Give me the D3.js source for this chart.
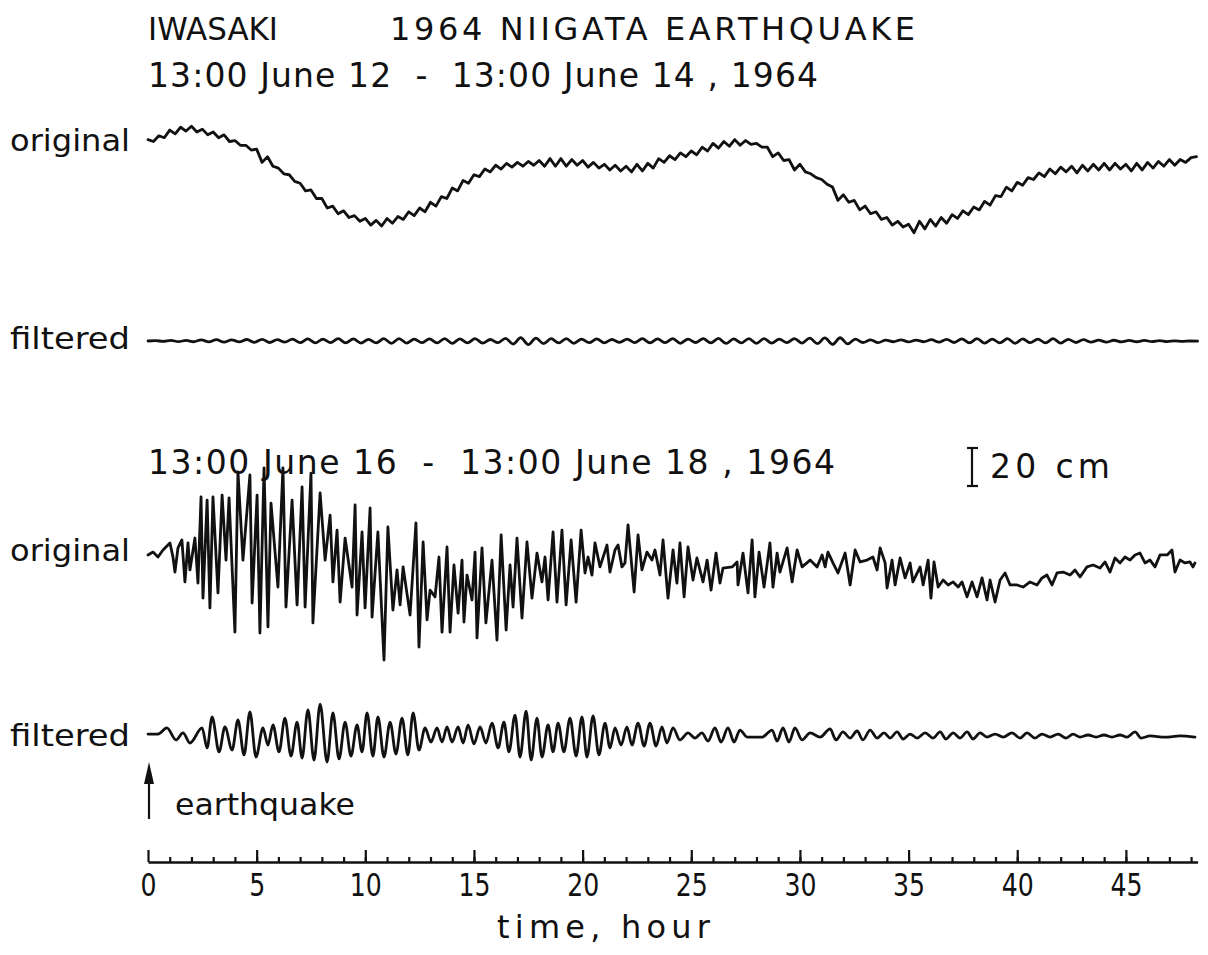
<!DOCTYPE html>
<html>
<head>
<meta charset="utf-8">
<script src="https://cdn.jsdelivr.net/npm/d3@7"></script>
<style>
  html, body { margin: 0; padding: 0; background: #ffffff; }
  svg text { font-family: "DejaVu Sans", "Liberation Sans", sans-serif; fill: #111; white-space: pre; }
</style>
</head>
<body>
<svg id="chart" width="1208" height="955"></svg>
<script>
// Iwasaki tide-gauge records around the 1964 Niigata earthquake.
// Time in hours from 13:00 of the first day, sea level in cm.

// 13:00 June 12 - 13:00 June 14: raw record, one reading every 0.25 h
const june12Step = 0.25;
const june12Original = [
  16, 15, 18, 17, 21, 19, 22.5, 20.5, 23, 20,
  21.5, 18.5, 20, 17, 18.5, 15, 15.5, 13, 13, 10.5,
  11, 4, 7, 2, 1, -2, -2.5, -6, -7, -11,
  -10.5, -15, -15, -20, -19, -23, -21.5, -25, -24, -27,
  -25.5, -29, -26.5, -29.5, -25.5, -28, -24.5, -26, -22, -24,
  -20, -22, -17, -19, -14, -15, -9.5, -11, -5.5, -7,
  -2.5, -3.5, 0.5, -1, 2.5, 0.5, 3.5, 1.5, 4, 2,
  4.5, 2.5, 5, 2, 6, 2, 6, 2, 5.5, 2.5,
  5, 1.5, 4, 1, 3, 0, 2.5, -0.5, 2, -1,
  3, -0.5, 3.5, 1, 6, 4, 7.5, 5.5, 9, 7,
  10, 8, 12, 10, 14, 11.5, 15, 12.5, 16, 13,
  15.5, 13.5, 14, 12, 12, 7, 9, 5, 5.5, 0,
  3, -1, -2, -4, -5, -7.5, -9, -16, -13, -17,
  -16, -21, -19, -23, -22, -26, -25, -29, -27, -30,
  -28.5, -33, -27, -31, -26, -29.5, -25, -28, -23.5, -25.5,
  -21.5, -23.5, -19.5, -21, -16.5, -18.5, -13.5, -14, -9, -11,
  -6.5, -8, -4, -5, -1.5, -3.5, 0.5, -2, 1.5, -1,
  2, -1.5, 2.5, -0.5, 3, 0, 3.5, 0, 3.5, 0.5,
  3, -0.5, 3.5, 0, 4, 1, 4.5, 2, 5.5, 2.5,
  5.5, 4, 6.5, 7
];

// Same interval after filtering, one reading every 0.35 h
const june12FilteredStep = 0.35;
const june12Filtered = [
  0.0, 0.2, -0.2, 0.3, -0.3, 0.3, -0.4, 0.6, -0.5, 0.7,
  -0.6, 0.6, -0.5, 0.8, -0.7, 0.9, -0.8, 0.7, -0.6, 1.0,
  -0.9, 1.1, -1.0, 1.0, -0.9, 1.2, -1.0, 1.1, -1.1, 0.9,
  -1.0, 1.2, -1.2, 1.3, -1.1, 1.0, -0.9, 1.1, -1.0, 1.3,
  -1.2, 1.1, -1.0, 1.2, -1.1, 0.8, -0.9, 1.4, -1.6, 1.8,
  -1.9, 1.5, -1.4, 1.2, -1.0, 1.3, -1.2, 1.0, -0.9, 1.1,
  -1.0, 0.8, -0.7, 1.0, -0.9, 1.2, -1.0, 1.1, -0.9, 1.3,
  -1.2, 1.0, -0.8, 1.2, -1.0, 1.4, -1.3, 1.1, -1.0, 1.3,
  -1.2, 1.2, -1.1, 1.0, -0.9, 1.2, -1.1, 1.5, -1.4, 1.6,
  -1.8, 1.7, -1.5, 1.0, -0.8, 0.6, -0.9, 0.5, -0.4, 0.6,
  -0.5, 0.5, -0.4, 0.7, -0.6, 0.9, -0.8, 1.1, -1.0, 1.2,
  -1.1, 1.0, -1.0, 1.2, -1.2, 1.1, -0.9, 1.0, -1.0, 1.2,
  -1.1, 0.9, -0.8, 0.7, -0.6, 0.5, -0.6, 0.4, -0.5, 0.3,
  -0.4, 0.3, -0.3, 0.2, -0.3, 0.1, -0.2, 0.0, -0.1
];

// 13:00 June 16 - 13:00 June 18: raw record, turning points (hour, cm)
const june16OriginalHours = [
  0.00, 0.23, 0.46, 0.69, 1.01, 1.15, 1.24, 1.38, 1.56, 1.70,
  1.84, 1.93, 2.16, 2.30, 2.44, 2.53, 2.72, 2.85, 2.99, 3.22,
  3.41, 3.59, 3.73, 4.00, 4.14, 4.37, 4.69, 4.79, 5.02, 5.15,
  5.34, 5.52, 5.66, 5.98, 6.21, 6.35, 6.63, 6.86, 7.09, 7.23,
  7.50, 7.59, 7.92, 8.15, 8.38, 8.51, 8.70, 8.84, 9.07, 9.39,
  9.53, 9.62, 9.85, 9.99, 10.22, 10.31, 10.58, 10.86, 11.04, 11.27,
  11.46, 11.60, 11.74, 12.06, 12.33, 12.47, 12.66, 12.84, 12.98, 13.21,
  13.39, 13.53, 13.76, 13.90, 14.08, 14.27, 14.45, 14.54, 14.68, 14.91,
  15.05, 15.14, 15.37, 15.55, 15.83, 16.06, 16.25, 16.48, 16.66, 16.80,
  16.98, 17.21, 17.44, 17.67, 17.90, 18.13, 18.27, 18.41, 18.64, 18.82,
  19.05, 19.24, 19.47, 19.70, 19.93, 20.11, 20.25, 20.43, 20.57, 20.80,
  21.12, 21.26, 21.49, 21.63, 21.81, 21.95, 22.09, 22.37, 22.55, 22.73,
  22.96, 23.19, 23.33, 23.56, 23.70, 23.93, 24.16, 24.34, 24.48, 24.67,
  24.85, 25.08, 25.26, 25.54, 25.73, 25.91, 26.14, 26.32, 26.46, 26.88,
  27.11, 27.15, 27.38, 27.61, 27.80, 27.93, 28.12, 28.35, 28.62, 28.76,
  28.95, 29.08, 29.41, 29.64, 29.87, 30.10, 30.47, 30.79, 31.02, 31.16,
  31.29, 31.52, 31.75, 32.08, 32.31, 32.54, 32.77, 33.09, 33.36, 33.55,
  33.69, 33.92, 34.01, 34.24, 34.38, 34.61, 34.84, 35.07, 35.20, 35.53,
  35.67, 35.90, 36.03, 36.17, 36.36, 36.59, 36.82, 37.05, 37.28, 37.46,
  37.69, 37.92, 38.15, 38.38, 38.61, 38.75, 38.98, 39.21, 39.44, 39.67,
  39.99, 40.27, 40.59, 40.91, 41.14, 41.37, 41.60, 41.83, 42.11, 42.43,
  42.66, 42.89, 43.21, 43.49, 43.81, 44.04, 44.27, 44.50, 44.73, 44.96,
  45.19, 45.42, 45.65, 45.88, 46.11, 46.34, 46.57, 46.90, 47.12, 47.26,
  47.49, 47.72, 47.95, 48.09, 48.18
];
const june16OriginalCm = [
  -2.6, -1.1, -3.7, 0, 3.7, -3.7, -11.6, 1.1, 5.3, -16.8,
  3.7, -10.5, 6.3, -17.4, 27.9, -25.3, 26.3, -30.5, 27.9, -22.6,
  28.9, -5.3, 27.4, -43.2, 41.1, -5.3, 39.5, -27.9, 28.9, -43.7,
  43.2, -40.5, 24.7, -19.5, 43.2, -30, 26.3, -28.9, 33.2, -30,
  40.5, -38.4, 30, -5.3, 18.4, -16.8, 10.5, -27.4, 6.3, -19.5,
  23.7, -34.2, 9.5, -30.5, 22.1, -35.3, 9.5, -57.9, 12.1, -31.6,
  -10.5, -28.9, -8.9, -34.2, 14.2, -51.1, 4.2, -36.8, -21.1, -24.7,
  -3.7, -43.2, 1.6, -43.2, -7.9, -33.2, -5.3, -37.9, -13.2, -26.3,
  -1.1, -46.3, 1.1, -38.4, -5.3, -47.4, 7.9, -42.1, -7.9, -30,
  6.3, -35.8, 4.2, -25.3, -1.6, -16.8, -3.7, -26.3, 9.5, -27.4,
  10.5, -28.9, 5.3, -27.4, 10.5, -12.1, -3.7, -13.2, 3.7, -8.9,
  2.6, -11.6, 0, 2.6, -8.9, -6.8, 13.2, -22.1, 7.9, -10.5,
  -1.1, -5.3, 0, -13.2, 5.3, -25.3, 0, -17.4, 3.7, -24.7,
  1.6, -15.8, -4.2, -16.8, -5.3, -21.1, -1.6, -17.4, -9.5, -8.9,
  -6.3, -18.4, -1.6, -22.6, 5.3, -24.7, -1.1, -19.5, 3.7, -19.5,
  -1.6, -11.6, 1.1, -16.8, 0, -8.9, -5.3, -8.9, -2.6, -8.9,
  -1.1, -6.8, -12.1, -1.6, -18.4, 0, -6.3, -5.3, -3.7, -10.5,
  1.1, -6.8, -20, -5.3, -18.4, -4.2, -14.7, -6.8, -16.8, -8.9,
  -18.4, -5.3, -25.3, -6.3, -19.5, -15.8, -18.4, -16.8, -19.5, -16.8,
  -24.7, -16.8, -24.7, -14.7, -26.3, -15.8, -27.4, -15.8, -12.1, -18.4,
  -18.4, -19.5, -16.8, -18.4, -14.7, -13.2, -18.4, -12.1, -11.6, -13.2,
  -10.5, -14.2, -8.9, -7.9, -9.5, -6.3, -11.6, -4.2, -6.8, -3.7,
  -5.3, -2.6, -1.6, -6.8, -5.3, -8.9, -2.6, -2.6, 0, -11.6,
  -5.3, -6.8, -6.3, -8.9, -6.8
];

// Same interval after filtering, turning points (hour, cm)
const june16FilteredHours = [
  0.00, 0.46, 0.87, 1.29, 1.61, 1.93, 2.49, 2.72, 2.95, 3.27,
  3.54, 3.87, 4.14, 4.42, 4.69, 4.97, 5.29, 5.52, 5.75, 6.03,
  6.30, 6.58, 6.86, 7.09, 7.36, 7.64, 7.92, 8.24, 8.51, 8.79,
  9.07, 9.34, 9.62, 9.85, 10.08, 10.35, 10.58, 10.86, 11.14, 11.41,
  11.69, 11.96, 12.20, 12.47, 12.75, 13.02, 13.30, 13.53, 13.76, 13.99,
  14.27, 14.50, 14.73, 15.00, 15.28, 15.55, 15.83, 16.11, 16.38, 16.61,
  16.89, 17.12, 17.40, 17.63, 17.90, 18.13, 18.41, 18.64, 18.87, 19.14,
  19.42, 19.70, 19.97, 20.20, 20.48, 20.75, 21.03, 21.26, 21.49, 21.77,
  22.04, 22.27, 22.55, 22.83, 23.10, 23.38, 23.65, 23.88, 24.16, 24.48,
  24.85, 25.17, 25.49, 25.77, 26.09, 26.37, 26.69, 26.97, 27.24, 27.57,
  27.84, 28.26, 28.72, 28.95, 29.22, 29.50, 29.77, 30.10, 30.47, 30.93,
  31.39, 31.66, 31.98, 32.31, 32.63, 32.90, 33.23, 33.55, 33.87, 34.15,
  34.47, 34.75, 35.07, 35.39, 35.76, 36.13, 36.45, 36.72, 37.05, 37.37,
  37.69, 37.97, 38.29, 38.61, 38.98, 39.35, 39.76, 40.13, 40.45, 40.82,
  41.14, 41.51, 41.88, 42.25, 42.57, 42.89, 43.26, 43.63, 43.99, 44.36,
  44.73, 45.05, 45.42, 45.70, 46.11, 46.80, 47.49, 48.18
];
const june16FilteredCm = [
  0.5, 0.5, 3.7, -2.6, 1.1, -4.2, 3.7, -6.8, 9.5, -8.9,
  4.2, -7.9, 7.9, -10.5, 12.1, -11.6, 3.7, -5.3, 5.3, -8.9,
  8.9, -11.1, 6.8, -12.1, 13.2, -13.2, 16.3, -14.2, 11.6, -12.6,
  6.8, -11.1, 5.3, -8.9, 11.6, -11.1, 9.5, -11.6, 6.8, -10,
  8.9, -10.5, 11.6, -7.9, 3.7, -3.7, 3.7, -3.7, 4.2, -3.7,
  4.2, -4.2, 5.3, -4.7, 4.2, -4.2, 6.3, -6.8, 6.8, -8.9,
  10.5, -11.6, 12.6, -13.2, 8.9, -11.6, 5.3, -8.9, 6.3, -8.9,
  8.9, -11.1, 9.5, -11.6, 10, -10.5, 6.3, -6.8, 3.7, -5.3,
  4.2, -5.3, 6.3, -5.8, 6.3, -5.8, 4.2, -4.2, 3.7, -2.6,
  1.1, -1.6, 1.1, -3.2, 3.7, -3.7, 3.7, -3.7, 2.6, -1.1,
  -1.1, -1.1, 2.6, -3.2, 3.7, -3.7, 3.7, -2.6, 1.1, -1.1,
  3.2, -2.6, 1.6, -1.6, 2.1, -2.6, 2.6, -1.6, 1.1, -1.6,
  1.6, -2.1, 0.5, -1.6, 1.1, -1.6, 1.6, -2.1, 1.1, -1.6,
  1.6, -2.1, 1.1, -1.1, 0.5, -1.1, 1.1, -1.6, 1.1, -1.6,
  0.5, -1.1, 0.5, -1.6, 0.5, -1.1, 0, -1.1, 0, -1.1,
  0, -1.1, 1.6, -1.6, -0.5, -1.1, -0.5, -1.1
];

// Axis ticks (hours)
const majorTicks = [0, 5, 10, 15, 20, 25, 30, 35, 40, 45];
const minorTicks = d3.range(1, 49);

const svg = d3.select("#chart");
const INK = "#111";

const x = d3.scaleLinear().domain([0, 48.3]).range([148, 1197.6]);
const PX_PER_CM = 1.9;
const yFor = base => d3.scaleLinear().domain([0, 1]).range([base, base - PX_PER_CM]);

const sampled = (vals, step) => vals.map((v, i) => [i * step, v]);
const paired = (hs, vs) => hs.map((h, i) => [h, vs[i]]);

const traces = [
  { pts: sampled(june12Original, june12Step), base: 170, curve: d3.curveLinear },
  { pts: sampled(june12Filtered, june12FilteredStep), base: 341, curve: d3.curveMonotoneX },
  { pts: paired(june16OriginalHours, june16OriginalCm), base: 550, curve: d3.curveLinear },
  { pts: paired(june16FilteredHours, june16FilteredCm), base: 735, curve: d3.curveMonotoneX }
];

traces.forEach(t => {
  const y = yFor(t.base);
  const line = d3.line().x(d => x(d[0])).y(d => y(d[1])).curve(t.curve);
  svg.append("path")
    .datum(t.pts)
    .attr("d", line)
    .attr("fill", "none")
    .attr("stroke", INK)
    .attr("stroke-width", 2.8)
    .attr("stroke-linejoin", "round")
    .attr("stroke-linecap", "round");
});

// Text labels
function label(txt, px, py, size, len, adjust) {
  const t = svg.append("text").attr("x", px).attr("y", py)
    .attr("font-size", size).text(txt);
  if (len) t.attr("textLength", len).attr("lengthAdjust", adjust || "spacing");
  return t;
}
label("IWASAKI", 148, 40, 32, 130, "spacingAndGlyphs");
label("1964 NIIGATA EARTHQUAKE", 390, 40, 32, 525);
label("13:00 June 12  -  13:00 June 14 , 1964", 148, 87, 33, 670);
label("original", 10, 151, 31, 120, "spacingAndGlyphs");
label("filtered", 10, 349, 31, 120, "spacingAndGlyphs");
label("13:00 June 16  -  13:00 June 18 , 1964", 148, 474, 33, 687);
label("20 cm", 990, 478, 33, 120);
label("original", 10, 561, 31, 120, "spacingAndGlyphs");
label("filtered", 10, 746, 31, 120, "spacingAndGlyphs");
label("earthquake", 175, 815, 31, 180, "spacingAndGlyphs");
label("time, hour", 497, 938, 32, 213);

// 20 cm scale bar
const barY = yFor(486);
const barX = 972;
svg.append("line").attr("x1", barX).attr("x2", barX)
  .attr("y1", barY(0)).attr("y2", barY(20))
  .attr("stroke", INK).attr("stroke-width", 2.2);
[0, 20].forEach(v => {
  svg.append("line").attr("x1", barX - 5).attr("x2", barX + 6)
    .attr("y1", barY(v)).attr("y2", barY(v))
    .attr("stroke", INK).attr("stroke-width", 2.2);
});

// Earthquake onset arrow at hour 0
const ax = x(0) + 1;
svg.append("line").attr("x1", ax).attr("x2", ax).attr("y1", 819).attr("y2", 778)
  .attr("stroke", INK).attr("stroke-width", 2.2);
svg.append("path")
  .attr("d", `M${ax},762 L${ax - 5},784 L${ax + 5},784 Z`)
  .attr("fill", INK);

// Time axis: hourly ticks, longer every five hours
const axisY = 862;
const minorAxis = svg.append("g").attr("transform", `translate(0,${axisY})`)
  .call(d3.axisBottom(x).tickValues(minorTicks).tickSize(-5).tickSizeOuter(0).tickFormat(""));
minorAxis.select(".domain").remove();
const majorAxis = svg.append("g").attr("transform", `translate(0,${axisY})`)
  .call(d3.axisBottom(x).tickValues(majorTicks).tickSize(-12).tickSizeOuter(0)
    .tickPadding(11).tickFormat(d3.format("d")));
svg.selectAll(".tick line").attr("stroke", INK).attr("stroke-width", 2.2);
majorAxis.select(".domain").attr("stroke", INK).attr("stroke-width", 2.4);
majorAxis.selectAll(".tick text")
  .attr("font-family", null)
  .attr("font-size", 32)
  .attr("fill", INK)
  .attr("textLength", d => String(d).length * 16)
  .attr("lengthAdjust", "spacingAndGlyphs");
</script>
</body>
</html>
